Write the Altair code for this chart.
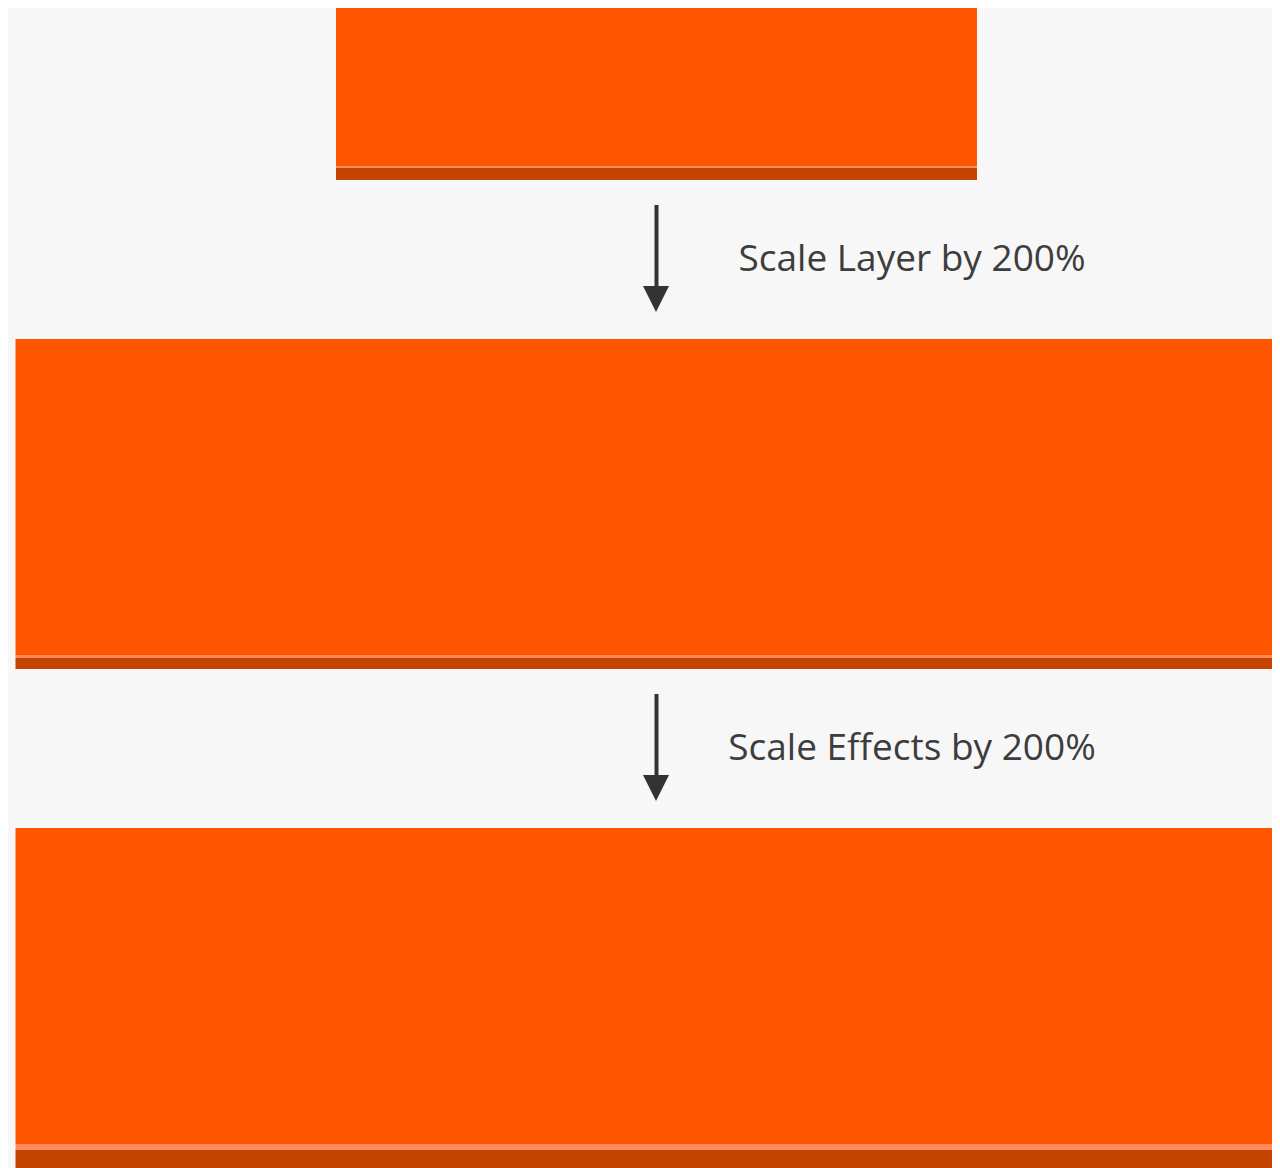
import altair as alt
import pandas as pd

# ---- diagram values ----
stage_names = ["Original", "Scale Layer by 200%", "Scale Effects by 200%"]
labels = ["Scale Layer by 200%", "Scale Effects by 200%"]
base_width = 641          # width of the original layer
base_height = 158         # height of the orange face of the original layer
layer_scale = [1, 2, 2]   # layer scale per stage
highlight = [2, 3, 6]     # light edge thickness per stage
shadow = [12, 11, 24]     # dark shadow thickness per stage
gap = 159                 # vertical gap between stages

W, H = 1264, 1160
cx = 648.5
label_x = 904

ORANGE = "#FF5700"
LIGHT = "#FF8B5E"
DARK = "#C44400"
BG = "#F7F7F7"
INK = "#333333"
TEXT = "#3D3D3D"

rects = []
mids = []
top = 0.0
for i, name in enumerate(stage_names):
    w = base_width * layer_scale[i]
    h = base_height * layer_scale[i]
    x0, x1 = cx - w / 2, cx + w / 2
    rects.append(dict(stage=name, part="face", x0=x0, x1=x1, y0=top, y1=top + h, fill=ORANGE))
    rects.append(dict(stage=name, part="light", x0=x0, x1=x1, y0=top + h, y1=top + h + highlight[i], fill=LIGHT))
    rects.append(dict(stage=name, part="shadow", x0=x0, x1=x1, y0=top + h + highlight[i],
                      y1=top + h + highlight[i] + shadow[i], fill=DARK))
    bottom = top + h + highlight[i] + shadow[i]
    if i < len(stage_names) - 1:
        mids.append(bottom + gap / 2)
    top = bottom + gap

rect_df = pd.DataFrame(rects)
shaft_df = pd.DataFrame([dict(x=cx, y0=m - 54.5, y1=m + 29) for m in mids])
head_df = pd.DataFrame([dict(x=cx - 0.5, y=m + 39.5) for m in mids])
text_df = pd.DataFrame([dict(x=label_x, y=m + 11.5, label=l) for m, l in zip(mids, labels)])

xs = alt.Scale(domain=[0, W], nice=False, zero=False)
ys = alt.Scale(domain=[0, H], nice=False, zero=False, reverse=True)

rect_layer = alt.Chart(rect_df).mark_rect(clip=True).encode(
    x=alt.X("x0:Q", scale=xs, axis=None),
    x2="x1:Q",
    y=alt.Y("y0:Q", scale=ys, axis=None),
    y2="y1:Q",
    color=alt.Color("fill:N", scale=None, legend=None),
)

shaft_layer = alt.Chart(shaft_df).mark_rule(color=INK, strokeWidth=4).encode(
    x=alt.X("x:Q", scale=xs, axis=None),
    y=alt.Y("y0:Q", scale=ys, axis=None),
    y2="y1:Q",
)

head_layer = alt.Chart(head_df).mark_point(
    shape="M-1,-1L1,-1L0,1Z", size=676, filled=True, color=INK, opacity=1, strokeWidth=0
).encode(
    x=alt.X("x:Q", scale=xs, axis=None),
    y=alt.Y("y:Q", scale=ys, axis=None),
)

text_layer = alt.Chart(text_df).mark_text(
    font="Open Sans", fontSize=37, color=TEXT, align="center", baseline="alphabetic"
).encode(
    x=alt.X("x:Q", scale=xs, axis=None),
    y=alt.Y("y:Q", scale=ys, axis=None),
    text="label:N",
)

chart = alt.layer(rect_layer, shaft_layer, head_layer, text_layer).properties(
    width=W, height=H, autosize=alt.AutoSizeParams(type="none"), padding=0
).configure(background=BG).configure_view(stroke=None)

chart.save("out.html", embed_options={"renderer": "svg", "actions": False})
